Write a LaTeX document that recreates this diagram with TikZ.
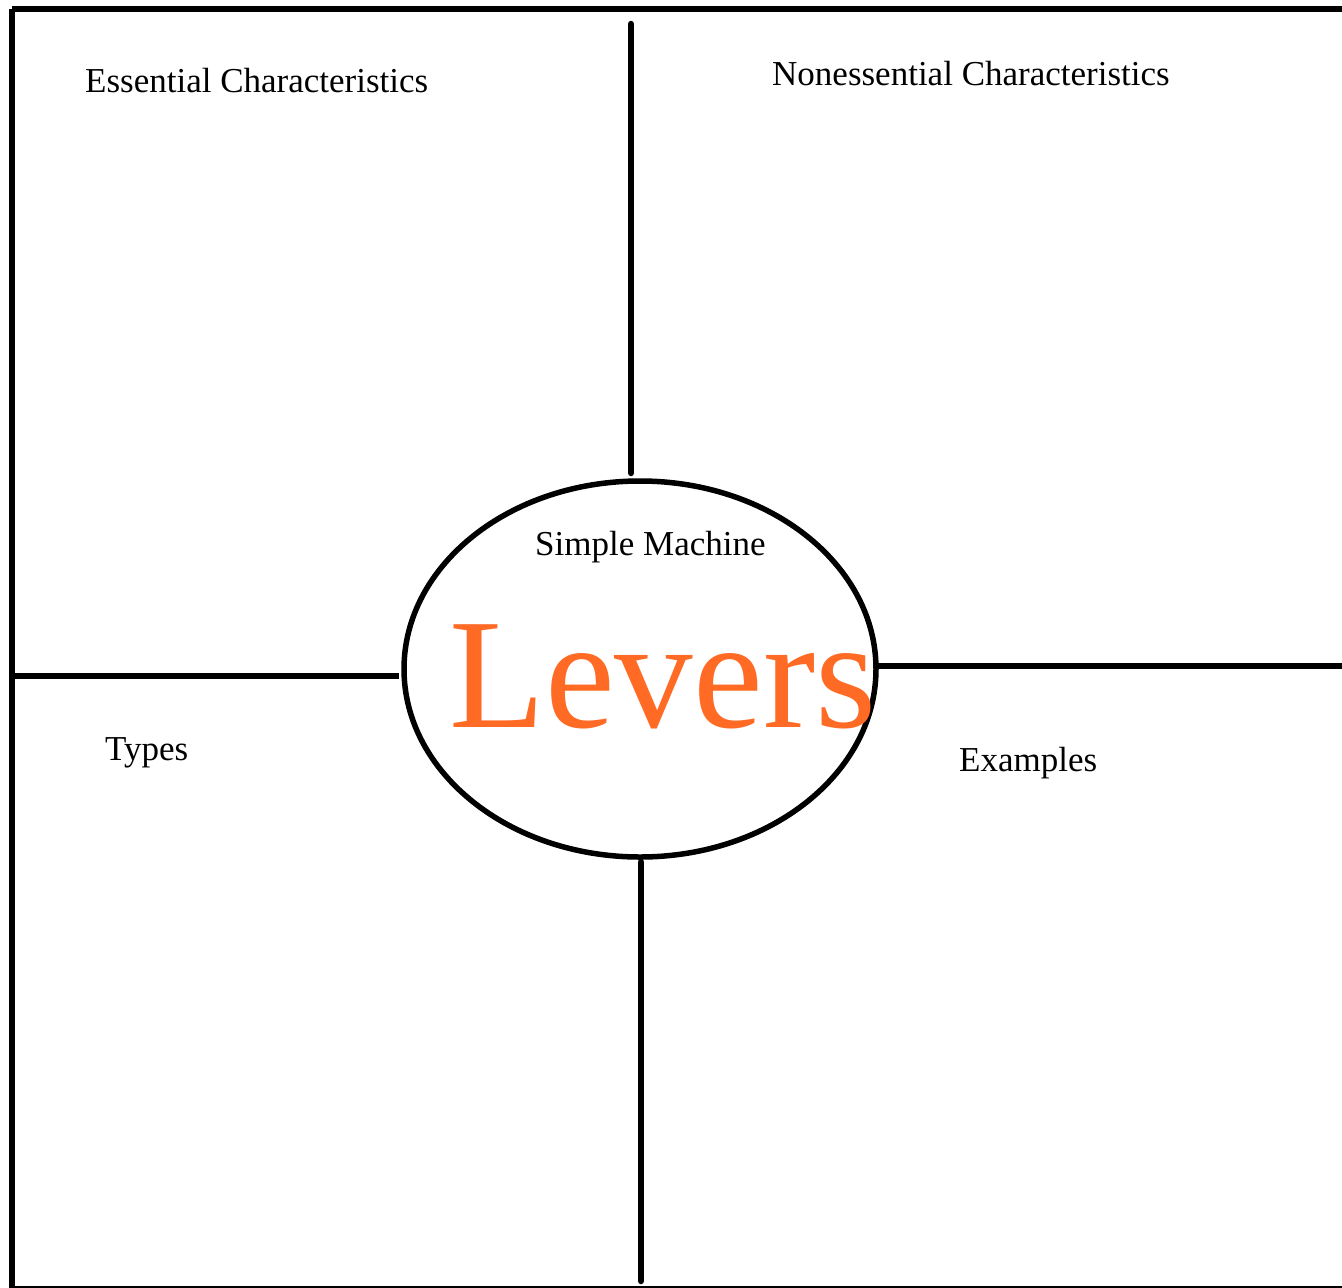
\documentclass[tikz,border=0pt]{standalone}
\usepackage{fontspec}
\setmainfont{Liberation Serif}
\usetikzlibrary{shapes.geometric}
\definecolor{leverorange}{RGB}{255,106,36}
\begin{document}
\begin{tikzpicture}[x=1pt,y=-1pt,
  frame/.style={line width=6.5pt,line cap=round},
  label/.style={anchor=base west,inner sep=0pt,font=\fontsize{35}{40}\selectfont},
]
\useasboundingbox (0,0) rectangle (1342,1288);
\fill[white] (0,0) rectangle (1342,1288);
% corners / ends
\coordinate (tl) at (12,9);
\coordinate (tr) at (1345,9);
\coordinate (bl) at (12,1290);
\coordinate (bb) at (12,1287);
\coordinate (br) at (1342,1287);
\coordinate (vt1) at (631,24);
\coordinate (vt2) at (631,473);
\coordinate (vb1) at (641,862);
\coordinate (vb2) at (641,1281);
\coordinate (hl1) at (12,676);
\coordinate (hl2) at (399,676);
\coordinate (hr1) at (878,666);
\coordinate (hr2) at (1345,666);
% frame
\draw[frame,line cap=butt] (tl) -- (tr);
\draw[frame,line cap=butt] (bl) -- (tl);
\draw[line width=3pt] (bb) -- (br);
\draw[frame] (vt1) -- (vt2);
\draw[frame] (vb1) -- (vb2);
\draw[frame,line cap=butt] (hl1) -- (hl2);
\draw[frame,line cap=butt] (hr1) -- (hr2);
% ellipse
\node[ellipse,draw,line width=5.5pt,minimum width=472pt,minimum height=376pt,inner sep=0pt] (center) at (640,669) {};
% texts
\node[label] (ess) at (85,92) {Essential Characteristics};
\node[label] (noness) at (772,85) {Nonessential Characteristics};
\node[label] (simple) at (535,555) {Simple Machine};
\node[anchor=base west,inner sep=0pt,font=\fontsize{157}{160}\selectfont,text=leverorange] (levers) at (449,727) {Levers};
\node[label] (types) at (105,760) {Types};
\node[label] (examples) at (959,771) {Examples};
\end{tikzpicture}
\end{document}
